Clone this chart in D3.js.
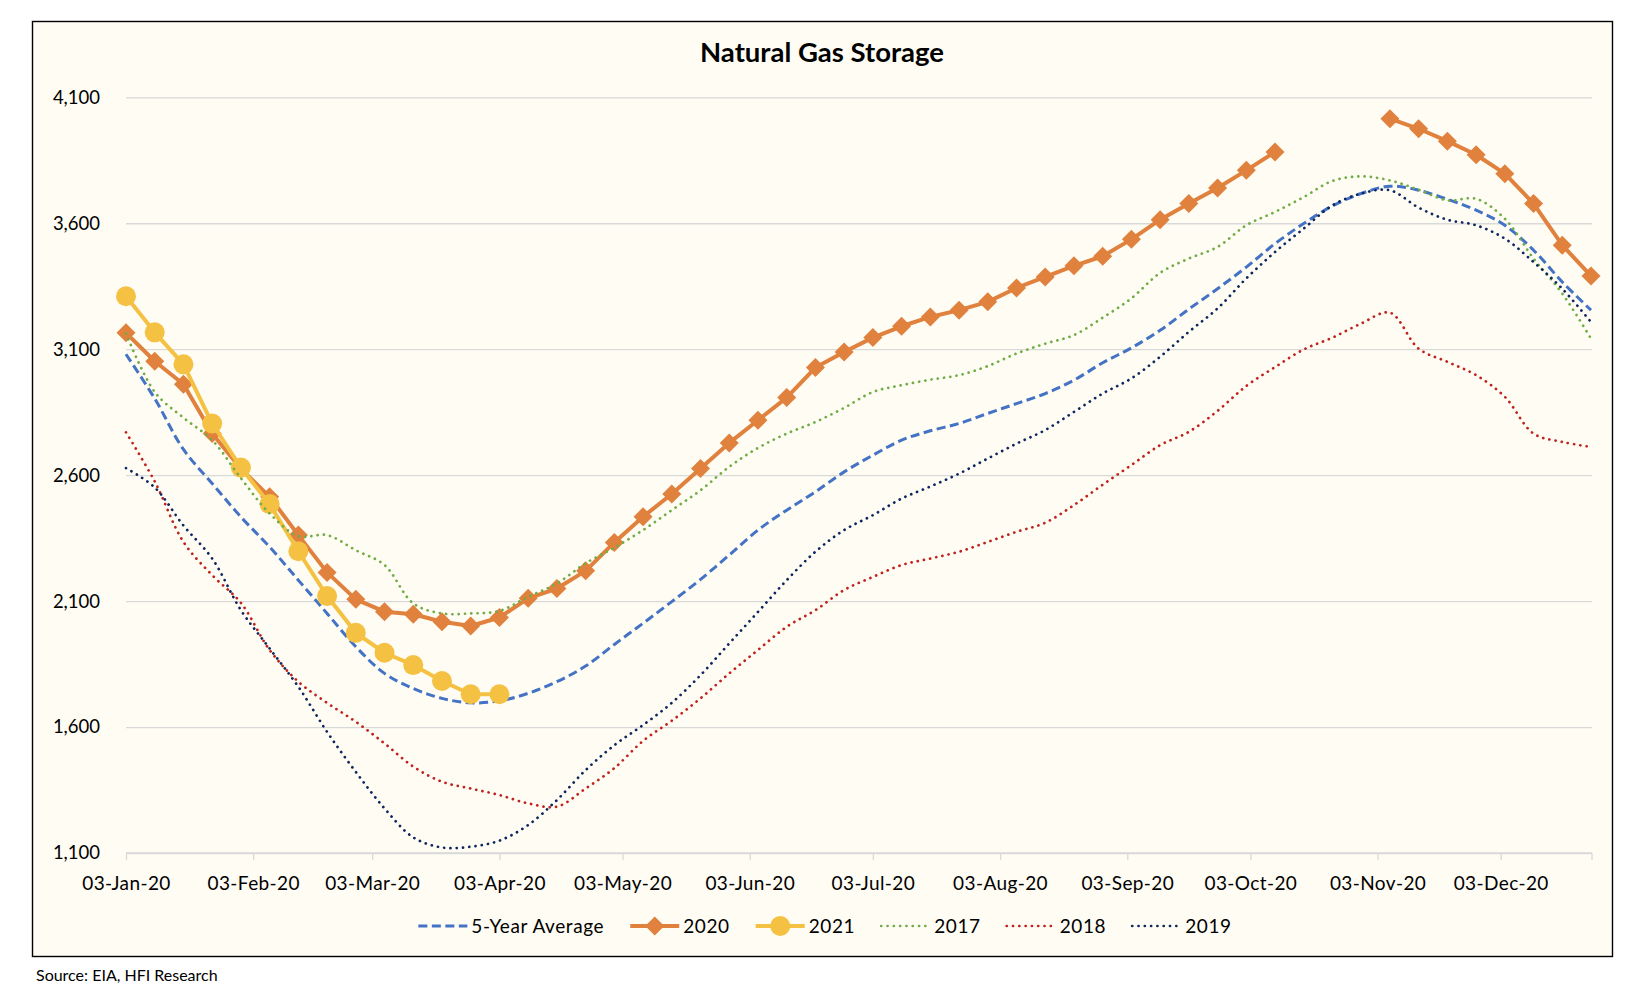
<!DOCTYPE html>
<html><head><meta charset="utf-8">
<script src="https://cdn.jsdelivr.net/npm/d3@7"></script>
<style>body{margin:0;background:#fff}svg{display:block}</style>
</head><body>
<svg id="chart" width="1630" height="1002"></svg>
<script>
// ---------- data ----------
const title = "Natural Gas Storage";
const sourceNote = "Source: EIA, HFI Research";
const weekStart = "2020-01-03";   // weekly points, Fridays
const tickLabels = ["03-Jan-20","03-Feb-20","03-Mar-20","03-Apr-20","03-May-20","03-Jun-20",
                    "03-Jul-20","03-Aug-20","03-Sep-20","03-Oct-20","03-Nov-20","03-Dec-20"];
const yTicks = [1100,1600,2100,2600,3100,3600,4100];

const fiveYearAvg = [3080,2904,2702,2567,2434, 2315,2183,2051,1919, 1813,1753,1714,1696,
  1704,1734,1780,1842, 1928,2012,2098,2186,2283, 2382,2461,2534,2613, 2679,2739,2776,2805,2845,
  2884,2924,2977,3046, 3105,3175,3259,3340, 3426,3519,3599,3669,3718, 3747,3731,3695,3652,
  3592,3493,3367,3255];
const s2020 = [3165,3052,2961,2765,2625, 2514,2362,2214,2107, 2058,2048,2018,2001,
  2035,2111,2150,2220, 2333,2435,2525,2626,2728, 2818,2908,3027,3089, 3146,3191,3228,3255,3288,
  3343,3387,3431,3469, 3536,3614,3678,3740, 3810,3883,null,null,null, 4015,3975,3926,3872,
  3797,3678,3513,3391];
const s2021 = [3310,3167,3040,2805,2630, 2485,2298,2120,1974, 1895,1846,1783,1730, 1730];
const s2017 = [3162,2930,2828,2739,2588, 2448,2358,2362,2302, 2243,2091,2051,2051,
  2061,2117,2170,2250, 2312,2382,2461,2540,2633, 2708,2765,2811,2867, 2930,2957,2979,2997,3033,
  3083,3122,3156,3225, 3302,3403,3460,3506, 3592,3645,3704,3768,3786, 3770,3733,3691,3697,
  3618,3460,3321,3142];
const s2018 = [2770,2575,2335,2203,2093, 1906,1780,1696,1621, 1535,1443,1383,1356,
  1330,1297,1284,1356, 1437,1545,1625,1714,1813, 1906,1998,2064,2144, 2196,2243,2269,2296,2335,
  2375,2411,2481,2562, 2640,2719,2772,2855, 2954,3029,3099,3146,3202, 3245,3102,3050,2997,
  2911,2765,2732,2712];
const s2019 = [2628,2551,2400,2269,2064, 1912,1760,1581,1422, 1277,1162,1122,1125,
  1149,1211,1310,1429, 1528,1608,1696,1806,1932, 2057,2183,2296,2382, 2441,2507,2555,2606,2666,
  2725,2779,2851,2924, 2984,3070,3169,3262, 3381,3486,3579,3671,3718, 3731,3662,3614,3592,
  3539,3446,3340,3208];

const seriesNames = ["5-Year Average","2020","2021","2017","2018","2019"];

// ---------- setup ----------
const svg = d3.select("#chart");
const FONT = "Lato, 'Open Sans', sans-serif";
const start = d3.utcParse("%Y-%m-%d")(weekStart);
const weekDate = i => d3.utcDay.offset(start, 7 * i);
const parseTick = d3.utcParse("%d-%b-%y");
const fmtTick = d3.utcFormat("%d-%b-%y");

const x = d3.scaleUtc().domain([start, weekDate(fiveYearAvg.length - 1)]).range([126, 1591]);
const y = d3.scaleLinear().domain([1100, 4100]).range([853, 97.3]);

// chart frame
svg.append("rect").attr("x", 32.5).attr("y", 21.5).attr("width", 1580).attr("height", 935)
  .attr("fill", "#FEFCF3").attr("stroke", "#000").attr("stroke-width", 1.4);

// title
svg.append("text").attr("x", 822).attr("y", 62).attr("text-anchor", "middle")
  .attr("font-family", FONT).attr("font-weight", 700).attr("font-size", 27.5)
  .attr("fill", "#000").text(title);

// gridlines + y labels
const yAxis = d3.axisLeft(y).tickValues(yTicks).tickSize(-(1592 - 126)).tickPadding(26)
  .tickFormat(d3.format(","));
const gy = svg.append("g").attr("transform", "translate(126,0)").call(yAxis);
gy.select(".domain").remove();
gy.selectAll(".tick line").attr("stroke", "#D9D9D9").attr("stroke-width", 1.3);
gy.selectAll(".tick text").attr("font-family", FONT).attr("font-size", 18.5).attr("fill", "#000");

// x axis
const xAxis = d3.axisBottom(x).tickValues(tickLabels.map(parseTick)).tickSize(7).tickPadding(17)
  .tickFormat(fmtTick);
const gx = svg.append("g").attr("transform", "translate(0,853)").call(xAxis);
gx.select(".domain").attr("d", `M126,0H1592`).attr("stroke", "#D9D9D9").attr("stroke-width", 1.3);
gx.selectAll(".tick line").attr("stroke", "#D9D9D9").attr("stroke-width", 1.3);
gx.selectAll(".tick text").attr("font-family", FONT).attr("font-size", 19).attr("fill", "#000")
  .attr("letter-spacing", 0.4);
// right end tick
gx.append("line").attr("x1", 1592).attr("x2", 1592).attr("y1", 0).attr("y2", 7)
  .attr("stroke", "#D9D9D9").attr("stroke-width", 1.3);

// ---------- series ----------
const styles = {
  "5-Year Average": {data: fiveYearAvg, color: "#4472C4", width: 3, dash: "9 4.5", cap: "butt", smooth: true},
  "2020": {data: s2020, color: "#E0813D", width: 4, marker: "diamond"},
  "2021": {data: s2021, color: "#F4C142", width: 4, marker: "circle"},
  "2017": {data: s2017, color: "#70AD47", width: 2.7, dash: "0.1 6.2", cap: "round", smooth: true},
  "2018": {data: s2018, color: "#C0211D", width: 2.7, dash: "0.1 6.2", cap: "round", smooth: true},
  "2019": {data: s2019, color: "#0E2660", width: 2.7, dash: "0.1 6.2", cap: "round", smooth: true}
};

const diamondPath = r => `M0,${-r}L${r},0L0,${r}L${-r},0Z`;

seriesNames.forEach(name => {
  const st = styles[name];
  const pts = st.data.map((v, i) => ({date: weekDate(i), v}));
  const line = d3.line().defined(d => d.v != null).x(d => x(d.date)).y(d => y(d.v))
    .curve(st.smooth ? d3.curveCatmullRom.alpha(0.5) : d3.curveLinear);
  const g = svg.append("g");
  g.append("path").attr("d", line(pts)).attr("fill", "none").attr("stroke", st.color)
    .attr("stroke-width", st.width).attr("stroke-linejoin", "round")
    .attr("stroke-linecap", st.cap || "round")
    .attr("stroke-dasharray", st.dash || null);
  if (st.marker) {
    const valid = pts.filter(d => d.v != null);
    if (st.marker === "diamond") {
      g.selectAll("path.m").data(valid).join("path").attr("class", "m")
        .attr("d", diamondPath(9.5)).attr("transform", d => `translate(${x(d.date)},${y(d.v)})`)
        .attr("fill", st.color);
    } else {
      g.selectAll("circle").data(valid).join("circle")
        .attr("cx", d => x(d.date)).attr("cy", d => y(d.v)).attr("r", 10).attr("fill", st.color);
    }
  }
});

// ---------- legend ----------
const leg = svg.append("g");
let cx = 0;
const legY = 926;
seriesNames.forEach(name => {
  const st = styles[name];
  const it = leg.append("g").attr("transform", `translate(${cx},0)`);
  it.append("line").attr("x1", 0).attr("x2", 49).attr("y1", legY).attr("y2", legY)
    .attr("stroke", st.color).attr("stroke-width", st.width)
    .attr("stroke-dasharray", st.dash || null).attr("stroke-linecap", st.cap || "butt");
  if (st.marker === "diamond") it.append("path").attr("d", diamondPath(9.5))
    .attr("transform", `translate(24.5,${legY})`).attr("fill", st.color);
  if (st.marker === "circle") it.append("circle").attr("cx", 24.5).attr("cy", legY).attr("r", 10)
    .attr("fill", st.color);
  const t = it.append("text").attr("x", 53).attr("y", legY + 6.5).attr("font-family", FONT)
    .attr("font-size", 19).attr("fill", "#000").attr("letter-spacing", 0.6).text(name);
  cx += 53 + t.node().getComputedTextLength() + 26;
});
const legW = cx - 26;
leg.attr("transform", `translate(${825 - legW / 2},0)`);

// source
svg.append("text").attr("x", 36).attr("y", 981).attr("font-family", FONT).attr("font-size", 16)
  .attr("fill", "#000").text(sourceNote);
</script>
</body></html>
